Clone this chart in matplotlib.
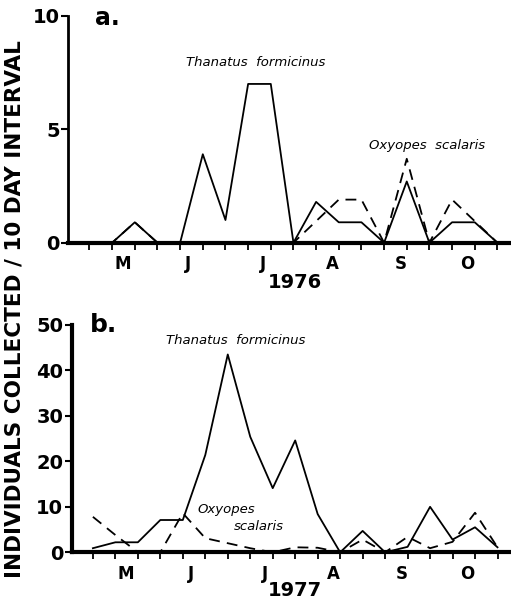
import numpy as np
import matplotlib
matplotlib.use("Agg")
import matplotlib.pyplot as plt

# 10-day interval index (1..19), May through October
intervals = list(range(1, 20))
months = ["M", "J", "J", "A", "S", "O"]

# 1976
thanatus_1976 = [0, 0, 0.9, 0, 0, 3.9, 1.0, 7, 7, 0, 1.8, 0.9, 0.9, 0, 2.7, 0, 0.9, 0.9, 0]
oxyopes_1976 = [0, 0, 0.9, 0, 0, 0, 0, 0, 0, 0, 0.95, 1.9, 1.9, 0, 3.7, 0, 1.9, 0.95, 0]

# 1977
thanatus_1977 = [0.9, 2.2, 2.2, 7.1, 7.1, 21.4, 43.5, 25.4, 14.1, 24.6, 8.4, 0, 4.7, 0, 1.2, 10, 2.8, 5.5, 1.1]
oxyopes_1977 = [7.8, 3.8, 0, 0, 8.6, 3.1, 2.0, 0.9, 0, 1.1, 1.0, 0, 2.8, 0, 3.4, 0.9, 2.3, 8.7, 1.1]

fig = plt.figure(figsize=(5.11, 6.0), dpi=100)
ax_a = fig.add_axes([0.133, 0.5955, 0.867, 0.378])
ax_b = fig.add_axes([0.140, 0.0795, 0.860, 0.379])

month_pos = [2.45, 5.35, 8.65, 11.7, 14.75, 17.65]

def style(ax, yticks, ylim, lw_left):
    ax.set_xlim(0.05, 19.6)
    ax.set_ylim(*ylim)
    for s in ["top", "right"]:
        ax.spines[s].set_visible(False)
    ax.spines["left"].set_linewidth(lw_left)
    ax.spines["bottom"].set_linewidth(3.0)
    ax.set_yticks(yticks)
    ax.set_yticklabels([str(v) for v in yticks], fontsize=14, fontweight="bold")
    ax.tick_params(axis="y", length=5, width=1.5, pad=1)
    ax.set_xticks(intervals, minor=True)
    ax.set_xticks(month_pos)
    ax.set_xticklabels(months, fontsize=12, fontweight="bold")
    ax.tick_params(axis="x", which="major", length=0, pad=9)
    ax.tick_params(axis="x", which="minor", length=5, width=1.3, direction="out")

ax_a.plot(intervals, thanatus_1976, color="black", lw=1.3)
ax_a.plot(intervals, oxyopes_1976, color="black", lw=1.3, ls=(0, (6, 4)))
style(ax_a, [0, 5, 10], (0, 10), 2.0)

ax_b.plot(intervals, thanatus_1977, color="black", lw=1.3)
ax_b.plot(intervals, oxyopes_1977, color="black", lw=1.3, ls=(0, (6, 4)))
style(ax_b, [0, 10, 20, 30, 40, 50], (0, 50), 3.0)

# Panel labels
fig.text(107 / 511, 1 - 18 / 600, "a.", fontsize=17, fontweight="bold", ha="center", va="center")
fig.text(104 / 511, 1 - 325 / 600, "b.", fontsize=18, fontweight="bold", ha="center", va="center")

# Species labels
fig.text(256 / 511, 1 - 63 / 600, "Thanatus  formicinus", fontsize=9.5, style="italic", ha="center", va="center")
fig.text(427 / 511, 1 - 145 / 600, "Oxyopes  scalaris", fontsize=9.5, style="italic", ha="center", va="center")
fig.text(236 / 511, 1 - 340 / 600, "Thanatus  formicinus", fontsize=9.5, style="italic", ha="center", va="center")
fig.text(226 / 511, 1 - 509 / 600, "Oxyopes", fontsize=9.5, style="italic", ha="center", va="center")
fig.text(259 / 511, 1 - 527 / 600, "scalaris", fontsize=9.5, style="italic", ha="center", va="center")

# Years
fig.text(295 / 511, 1 - 283 / 600, "1976", fontsize=14, fontweight="bold", ha="center", va="center")
fig.text(295 / 511, 1 - 591 / 600, "1977", fontsize=14, fontweight="bold", ha="center", va="center")

# Shared y label
fig.text(15 / 511, 1 - 309 / 600, "INDIVIDUALS COLLECTED / 10 DAY INTERVAL",
         rotation=90, fontsize=15.5, fontweight="bold", ha="center", va="center")

fig.savefig("out.png", dpi=100)
